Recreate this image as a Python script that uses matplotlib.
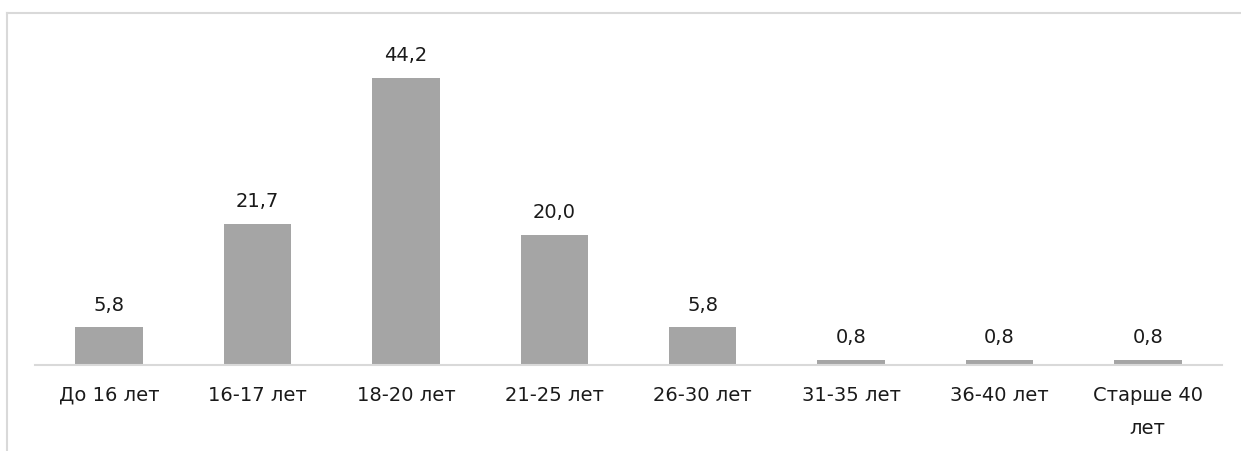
import matplotlib
matplotlib.use("Agg")
import matplotlib.pyplot as plt
from matplotlib.lines import Line2D

categories = ["До 16 лет", "16-17 лет", "18-20 лет", "21-25 лет", "26-30 лет",
              "31-35 лет", "36-40 лет", "Старше 40\nлет"]
values = [5.8, 21.7, 44.2, 20.0, 5.8, 0.8, 0.8, 0.8]
value_labels = ["5,8", "21,7", "44,2", "20,0", "5,8", "0,8", "0,8", "0,8"]

plt.rcParams['font.family'] = ['DejaVu Sans']

W, H = 1241, 451
fig = plt.figure(figsize=(W / 100, H / 100), dpi=100)

ax = fig.add_axes([35 / W, (H - 365) / H, (1222 - 35) / W, (365 - 40) / H])
x = range(len(categories))
ax.bar(x, values, width=0.455, color="#A5A5A5", zorder=2)
for xi, v, lab in zip(x, values, value_labels):
    ax.annotate(lab, (xi, v), xytext=(0, 9), textcoords="offset points",
                ha="center", va="bottom", fontsize=14, color="#1a1a1a")

ax.set_xlim(-0.5, len(categories) - 0.5)
ax.set_ylim(0, 50)
ax.set_xticks(list(x))
ax.set_xticklabels(categories, fontsize=14, color="#1a1a1a", linespacing=1.95)
ax.tick_params(axis="x", length=0, pad=15)
ax.set_yticks([])
for s in ["top", "left", "right"]:
    ax.spines[s].set_visible(False)
ax.spines["bottom"].set_color("#D9D9D9")
ax.spines["bottom"].set_linewidth(1.5)

# outer chart border (cropped at right and bottom)
fig.add_artist(Line2D([6.5 / W, 1.0], [1 - 12.5 / H, 1 - 12.5 / H],
                      transform=fig.transFigure, color="#D9D9D9", lw=1.5))
fig.add_artist(Line2D([6.5 / W, 6.5 / W], [0, 1 - 12.5 / H],
                      transform=fig.transFigure, color="#D9D9D9", lw=1.5))

fig.savefig("out.png", dpi=100)
